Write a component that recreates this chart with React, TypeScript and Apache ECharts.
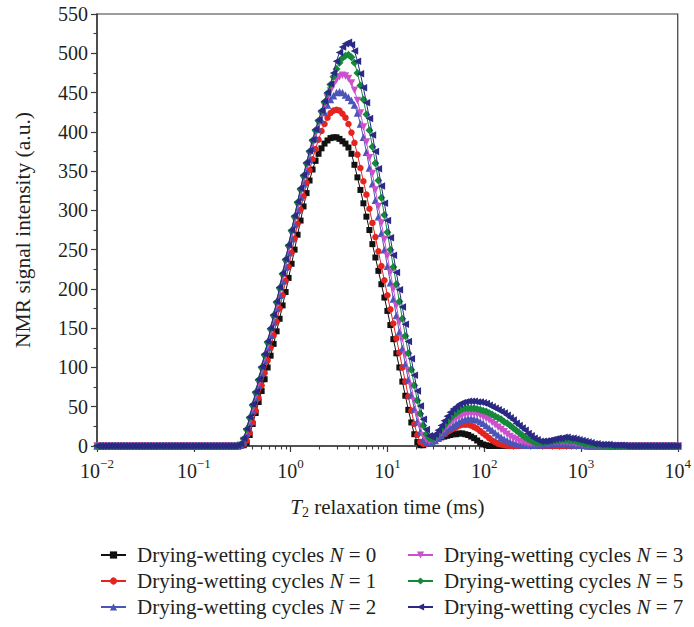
import React, { useEffect, useRef } from 'react';
import * as echarts from 'echarts';

const FONT = '"Liberation Serif", "Times New Roman", Times, serif';
const TXT = '#231f20';
const AX = '#3a3a3a';

// T2 sampling grid (ms): 195 log-spaced points from 0.01 to 10000
const T2 = Array.from({ length: 195 }, (_, i) => Math.pow(10, -2 + (6 * i) / 194));

const X_MAJOR = [0.01, 0.1, 1, 10, 100, 1000, 10000];
const X_MINOR: number[] = [];
for (let d = -2; d < 4; d++) for (let m = 2; m <= 9; m++) X_MINOR.push(m * Math.pow(10, d));

// NMR signal intensity (a.u.), one value per T2 grid point
const N0 = [
  0,0,0,0,0,0,0,0,0,0,
  0,0,0,0,0,0,0,0,0,0,
  0,0,0,0,0,0,0,0,0,0,
  0,0,0,0,0,0,0,0,0,0,
  0,0,0,0,0,0,0,0,0,1,
  4,14,28,42,56,70,85,100,115,130,
  146,162,179,196,214,232,250,269,287,305,
  322,338,352,363,372,379,385,389,392,393,
  393,391,388,385,380,372,358,342,326,309,
  292,275,257,240,223,206,189,172,154,136,
  118,100,82,64,46,30,15,5,1,1,
  3,5,7,9,10,11,12,13,14,15,
  15,16,16,15,14,12,10,7,4,2,
  1,0,0,0,0,0,0,0,0,0,
  0,0,0,0,0,0,0,0,0,0,
  0,0,0,0,0,0,0,0,0,0,
  0,0,0,0,0,0,0,0,0,0,
  0,0,0,0,0,0,0,0,0,0,
  0,0,0,0,0,0,0,0,0,0,
  0,0,0,0,0,
];

const N1 = [
  0,0,0,0,0,0,0,0,0,0,
  0,0,0,0,0,0,0,0,0,0,
  0,0,0,0,0,0,0,0,0,0,
  0,0,0,0,0,0,0,0,0,0,
  0,0,0,0,0,0,0,0,0,2,
  7,17,30,45,61,77,93,109,125,141,
  158,175,192,210,228,246,264,283,301,318,
  335,351,365,378,390,401,410,418,424,427,
  428,427,423,418,410,399,386,371,354,337,
  320,302,284,266,248,229,211,192,174,156,
  137,119,100,82,63,45,28,14,5,3,
  3,4,6,8,10,13,15,18,20,22,
  24,26,27,27,27,26,24,22,19,16,
  13,10,7,5,3,2,1,0.5,0,0,
  0,0,0,0,0,0,0,0,0,0,
  0,0,0,0,0,0,0,0,0,0,
  0,0,0,0,0,0,0,0,0,0,
  0,0,0,0,0,0,0,0,0,0,
  0,0,0,0,0,0,0,0,0,0,
  0,0,0,0,0,
];

const N2 = [
  0,0,0,0,0,0,0,0,0,0,
  0,0,0,0,0,0,0,0,0,0,
  0,0,0,0,0,0,0,0,0,0,
  0,0,0,0,0,0,0,0,0,0,
  0,0,0,0,0,0,0,0,1,6,
  16,30,45,61,77,93,109,125,141,158,
  175,192,210,228,246,264,282,300,317,334,
  350,365,379,392,404,415,425,434,441,446,
  450,451,450,447,444,440,434,424,410,393,
  374,354,334,313,292,271,250,229,208,187,
  166,145,124,104,84,65,47,31,18,9,
  5,4,5,7,10,13,17,20,23,26,
  29,31,33,34,35,35,34,33,31,29,
  26,23,20,17,14,11,9,7,5,4,
  3,2,2,1,1,1,1,1,2,2,
  2,2,3,3,3,3,3,2,2,2,
  1,1,1,0.5,0,0,0,0,0,0,
  0,0,0,0,0,0,0,0,0,0,
  0,0,0,0,0,0,0,0,0,0,
  0,0,0,0,0,
];

const N3 = [
  0,0,0,0,0,0,0,0,0,0,
  0,0,0,0,0,0,0,0,0,0,
  0,0,0,0,0,0,0,0,0,0,
  0,0,0,0,0,0,0,0,0,0,
  0,0,0,0,0,0,0,0,1,7,
  18,32,48,64,80,96,112,128,145,162,
  179,197,215,233,251,270,288,306,323,340,
  356,371,385,398,410,422,433,443,452,460,
  466,470,472,471,468,462,453,440,424,406,
  387,367,347,326,305,284,263,242,221,200,
  179,158,137,116,96,76,57,40,25,13,
  8,6,7,9,13,17,21,25,29,32,
  35,37,39,40,41,41,41,40,39,37,
  35,33,30,27,24,21,18,15,12,10,
  8,6,5,4,3,3,3,3,3,4,
  4,4,5,5,5,5,5,5,4,4,
  3,3,2,2,1,1,0.5,0,0,0,
  0,0,0,0,0,0,0,0,0,0,
  0,0,0,0,0,0,0,0,0,0,
  0,0,0,0,0,
];

const N5 = [
  0,0,0,0,0,0,0,0,0,0,
  0,0,0,0,0,0,0,0,0,0,
  0,0,0,0,0,0,0,0,0,0,
  0,0,0,0,0,0,0,0,0,0,
  0,0,0,0,0,0,0,0.5,2,9,
  21,36,52,68,84,100,116,132,149,166,
  183,201,219,237,255,274,292,310,327,344,
  360,375,389,402,414,426,438,449,460,470,
  480,488,494,497,498,495,488,475,459,441,
  422,402,381,360,338,316,294,272,250,228,
  206,184,162,140,118,97,77,58,41,26,
  15,10,9,12,16,21,26,31,35,39,
  42,45,47,48,48,48,48,47,46,45,
  44,42,40,38,36,34,31,29,26,23,
  20,17,14,11,9,7,5,4,4,4,
  5,6,6,7,7,8,8,8,7,7,
  6,5,4,3,3,2,2,1,1,1,
  0.5,0,0,0,0,0,0,0,0,0,
  0,0,0,0,0,0,0,0,0,0,
  0,0,0,0,0,
];

const N7 = [
  0,0,0,0,0,0,0,0,0,0,
  0,0,0,0,0,0,0,0,0,0,
  0,0,0,0,0,0,0,0,0,0,
  0,0,0,0,0,0,0,0,0,0,
  0,0,0,0,0,0,0,1,3,10,
  22,37,53,69,85,101,117,133,150,167,
  184,202,220,238,256,275,293,311,328,345,
  361,376,390,403,415,427,439,450,461,475,
  490,501,508,512,514,511,503,490,474,456,
  437,417,396,375,353,331,309,287,265,243,
  221,199,177,155,133,111,90,70,51,34,
  21,13,11,15,20,26,32,38,43,47,
  50,53,55,56,57,57,57,56,56,55,
  54,52,50,48,46,44,42,39,36,33,
  29,26,23,20,16,13,10,8,6,6,
  6,7,8,9,10,10,11,11,10,10,
  9,8,7,6,5,4,3,3,2,2,
  2,2,1,1,1,1,0.5,0,0,0,
  0,0,0,0,0,0,0,0,0,0,
  0,0,0,0,0,
];

const SERIES = [
  { name: 'Drying-wetting cycles N = 0', values: N0 },
  { name: 'Drying-wetting cycles N = 1', values: N1 },
  { name: 'Drying-wetting cycles N = 2', values: N2 },
  { name: 'Drying-wetting cycles N = 3', values: N3 },
  { name: 'Drying-wetting cycles N = 5', values: N5 },
  { name: 'Drying-wetting cycles N = 7', values: N7 },
];

const STYLES = [
  { color: '#111111', symbol: 'rect', size: 6, rotate: 0 },
  { color: '#e52420', symbol: 'circle', size: 6.5, rotate: 0 },
  { color: '#4a55b7', symbol: 'triangle', size: 7.5, rotate: 0 },
  { color: '#cc4fcc', symbol: 'triangle', size: 7.5, rotate: 180 },
  { color: '#15893a', symbol: 'diamond', size: 8, rotate: 0 },
  { color: '#2a2985', symbol: 'triangle', size: 7.5, rotate: 90 },
];

function supLabel(v: number) {
  const e = Math.round(Math.log10(v));
  const s = e < 0 ? '\u2212' + String(-e) : String(e);
  return '{b|10}{s|' + s + '}';
}

const legendText = (name: string) => name.replace(' N = ', ' {i|N} = ');

const legendBase = {
  orient: 'vertical',
  top: 544,
  height: 80,
  itemWidth: 25,
  itemHeight: 9,
  itemGap: 4,
  padding: 0,
  formatter: legendText,
  textStyle: {
    fontFamily: FONT,
    fontSize: 21,
    lineHeight: 22,
    color: TXT,
    padding: [0, 0, 0, 6],
    rich: { i: { fontFamily: FONT, fontSize: 21, lineHeight: 22, fontStyle: 'italic', color: TXT } },
  },
};

export default function App() {
  const ref = useRef<HTMLDivElement>(null);
  useEffect(() => {
    if (!ref.current) return;
    const chart = echarts.init(ref.current, null, { renderer: 'svg' });
    const option: any = {
      animation: false,
      backgroundColor: '#ffffff',
      grid: {
        left: 97, right: 13, top: 14, bottom: 181,
        show: true, borderColor: AX, borderWidth: 1.2, backgroundColor: 'transparent',
      },
      legend: [
        { ...legendBase, left: 100, data: SERIES.slice(0, 3).map((s) => s.name) },
        { ...legendBase, left: 407, data: SERIES.slice(3).map((s) => s.name) },
      ],
      xAxis: [
        {
          type: 'log', logBase: 10, min: 0.01, max: 10000, position: 'bottom',
          axisLine: { show: true, lineStyle: { color: AX, width: 1.5 } },
          axisTick: { show: true, length: 6, customValues: X_MAJOR, lineStyle: { color: AX, width: 1.2 } },
          splitLine: { show: false },
          axisLabel: {
            show: true, margin: 11, customValues: X_MAJOR, formatter: supLabel,
            rich: {
              b: { fontFamily: FONT, fontSize: 20, color: TXT, lineHeight: 24, verticalAlign: 'bottom' },
              s: { fontFamily: FONT, fontSize: 13, color: TXT, lineHeight: 13, verticalAlign: 'top' },
            },
          },
          name: '{i|T}{sub|2} relaxation time (ms)',
          nameLocation: 'middle',
          nameGap: 48,
          nameTextStyle: {
            fontFamily: FONT, fontSize: 21, color: TXT, lineHeight: 25,
            rich: {
              i: { fontFamily: FONT, fontSize: 21, fontStyle: 'italic', color: TXT, lineHeight: 25 },
              sub: { fontFamily: FONT, fontSize: 14, color: TXT, lineHeight: 14, verticalAlign: 'bottom' },
            },
          },
        },
        {
          type: 'log', logBase: 10, min: 0.01, max: 10000, position: 'bottom',
          axisLine: { show: false },
          axisTick: { show: true, length: 3.5, customValues: X_MINOR, lineStyle: { color: AX, width: 1.1 } },
          axisLabel: { show: false },
          splitLine: { show: false },
        },
      ],
      yAxis: {
        type: 'value', min: 0, max: 550, interval: 50,
        axisLine: { show: true, lineStyle: { color: AX, width: 1.5 } },
        axisTick: { show: true, length: 6, lineStyle: { color: AX, width: 1.2 } },
        minorTick: { show: true, splitNumber: 2, length: 3.5, lineStyle: { color: AX, width: 1.1 } },
        splitLine: { show: false },
        axisLabel: { fontFamily: FONT, fontSize: 20, color: TXT, margin: 9 },
        name: 'NMR signal intensity (a.u.)',
        nameLocation: 'middle',
        nameGap: 63,
        nameRotate: 90,
        nameTextStyle: { fontFamily: FONT, fontSize: 21.5, color: TXT },
      },
      series: SERIES.map((s, k) => ({
        name: s.name,
        type: 'line',
        xAxisIndex: 0,
        data: T2.map((x, i) => [x, s.values[i]]),
        symbol: STYLES[k].symbol,
        symbolSize: STYLES[k].size,
        symbolRotate: STYLES[k].rotate,
        showAllSymbol: true,
        itemStyle: { color: STYLES[k].color },
        lineStyle: { color: STYLES[k].color, width: 1 },
        z: 2 + k,
      })),
    };
    chart.setOption(option);
    return () => chart.dispose();
  }, []);
  return (
    <div
      ref={ref}
      style={{ position: 'fixed', left: 0, top: 0, width: 694, height: 627, background: '#fff' }}
    />
  );
}
